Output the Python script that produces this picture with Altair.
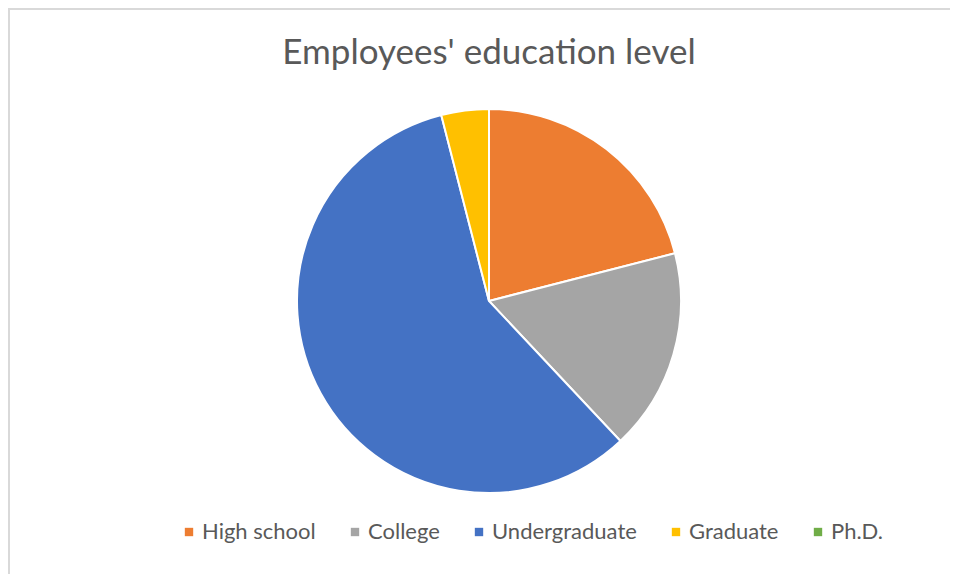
import altair as alt
import pandas as pd

categories = ["High school", "College", "Undergraduate", "Graduate", "Ph.D."]
values = [21, 17, 58, 4, 0]
colors = ["#ED7D31", "#A5A5A5", "#4472C4", "#FFC000", "#70AD47"]
title_text = "Employees' education level"

df = pd.DataFrame({"level": categories, "value": values, "order": list(range(len(categories)))})

W, H = 942, 566
FONT = "Lato"

pie = alt.Chart(df).mark_arc(outerRadius=192, stroke="white", strokeWidth=2).encode(
    theta=alt.Theta("value:Q", stack=True),
    order=alt.Order("order:Q"),
    color=alt.Color(
        "level:N",
        scale=alt.Scale(domain=categories, range=colors),
        sort=categories,
        legend=alt.Legend(
            title=None,
            orient="none",
            direction="horizontal",
            legendX=170,
            legendY=513,
            symbolType="square",
            symbolSize=70,
            symbolStrokeWidth=0,
            labelFontSize=22,
            labelFont=FONT,
            labelColor="#595959",
            labelOffset=2,
            columnPadding=28,
            padding=0,
        ),
    ),
    x=alt.value(481),
    y=alt.value(293),
)

title = alt.Chart(pd.DataFrame({"t": [title_text]})).mark_text(
    font=FONT, fontSize=35, color="#595959", align="center", baseline="alphabetic"
).encode(text="t:N", x=alt.value(481), y=alt.value(56))

# frame: only top and left edges are visible in the reference
border_top = alt.Chart(pd.DataFrame({"a": [0]})).mark_rule(color="#d9d9d9", strokeWidth=2).encode(
    x=alt.value(0), x2=alt.value(W), y=alt.value(1)
)
border_left = alt.Chart(pd.DataFrame({"a": [0]})).mark_rule(color="#d9d9d9", strokeWidth=2).encode(
    x=alt.value(1), y=alt.value(0), y2=alt.value(H)
)

chart = alt.layer(border_top, border_left, pie, title).properties(
    width=W, height=H, autosize=alt.AutoSizeParams(type="none"), padding=0,
    background="white",
).configure_view(stroke="white", strokeOpacity=0, strokeWidth=0)

chart.save("out.html", embed_options={"renderer": "svg", "actions": False})
